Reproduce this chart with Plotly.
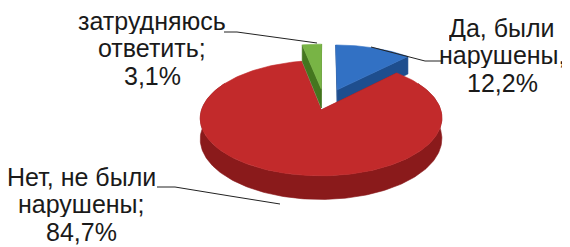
import numpy as np
import plotly.graph_objects as go

# ---- data ----
categories = ["Да, были нарушены", "Нет, не были нарушены", "затрудняюсь ответить"]
values = [12.2, 84.7, 3.1]
label_lines = [["Да, были", "нарушены,"], ["Нет, не были", "нарушены;"], ["затрудняюсь", "ответить;"]]

# ---- style / layout constants ----
W, H = 570, 247
OFF = 8           # default page body margin
CX, CY = 324.5, 104.6
RX, RY = 118.0, 55.0
K = 0.14          # perspective strength
DEPTH = 20.0
explode = [0.30, 0.10, 0.30]
top_colors = ["#3271C4", "#C22A2B", "#78B445"]
side_colors = ["#1E4E8E", "#8A1A1B", "#44761F"]
FONT = "Liberation Sans, Arial, sans-serif"
FS = 25
label_centers = [(502, 36), (81, 185), (152, 29)]   # (center x, first baseline y)
LINE_GAP = 27.5
leaders = [
    [(371, 47), (425, 61), (443, 61)],
    [(157, 187), (175, 187), (230, 196), (280, 204)],
    [(224, 32), (237, 32), (317, 43)],
]


def proj(u, v, z=0.0):
    p = 1.0 / (1.0 + K * v)
    return CX + u * RX * p, CY - v * RY * p + z * p


def poly(pts, color):
    xs = [q[0] for q in pts] + [pts[0][0]]
    ys = [q[1] for q in pts] + [pts[0][1]]
    return go.Scatter(x=xs, y=ys, mode="lines", fill="toself", fillcolor=color,
                      line=dict(color=color, width=0.6), hoverinfo="skip", showlegend=False)


total = sum(values)
starts = np.concatenate([[0], np.cumsum(values)[:-1]]) / total * 360
ends = np.cumsum(values) / total * 360

fig = go.Figure()

order = sorted(range(len(values)), key=lambda i: -np.cos(np.radians((starts[i] + ends[i]) / 2)))
for i in order:
    a0, a1 = starts[i], ends[i]
    mid = np.radians((a0 + a1) / 2)
    ox, oy = explode[i] * np.sin(mid), explode[i] * np.cos(mid)
    th = np.radians(np.linspace(a0, a1, 200))
    us, vs = ox + np.sin(th), oy + np.cos(th)
    # radial faces
    for a in (a0, a1):
        t = np.radians(a)
        eu, ev = ox + np.sin(t), oy + np.cos(t)
        fig.add_trace(poly([proj(ox, oy), proj(eu, ev), proj(eu, ev, DEPTH), proj(ox, oy, DEPTH)], side_colors[i]))
    # outer side band (front part)
    b0, b1 = max(a0, 60), min(a1, 300)
    if b1 > b0:
        tb = np.radians(np.linspace(b0, b1, 200))
        bu, bv = ox + np.sin(tb), oy + np.cos(tb)
        topp = [proj(a, b) for a, b in zip(bu, bv)]
        botp = [proj(a, b, DEPTH) for a, b in zip(bu, bv)][::-1]
        fig.add_trace(poly(topp + botp, side_colors[i]))
    # top face
    pts = [proj(ox, oy)] + [proj(a, b) for a, b in zip(us, vs)]
    fig.add_trace(poly(pts, top_colors[i]))

# leader lines
for ln in leaders:
    fig.add_trace(go.Scatter(x=[q[0] for q in ln], y=[q[1] for q in ln], mode="lines",
                             line=dict(color="#222222", width=1), hoverinfo="skip", showlegend=False))

# labels (one annotation per line for tight line spacing)
for i, lines in enumerate(label_lines):
    pct = f"{values[i]:.1f}".replace(".", ",") + "%"
    cx, by = label_centers[i]
    for j, txt in enumerate(lines + [pct]):
        fig.add_annotation(x=cx, y=by + j * LINE_GAP - 0.34 * FS, text=txt, showarrow=False,
                           xanchor="center", yanchor="middle", height=26,
                           font=dict(family=FONT, size=FS, color="#1a1a1a"))

fig.update_layout(
    width=W - OFF, height=H - OFF, margin=dict(l=0, r=0, t=0, b=0),
    paper_bgcolor="white", plot_bgcolor="white",
    xaxis=dict(range=[OFF, W], visible=False, fixedrange=True),
    yaxis=dict(range=[H, OFF], visible=False, fixedrange=True),
)
fig.write_html("out.html")
